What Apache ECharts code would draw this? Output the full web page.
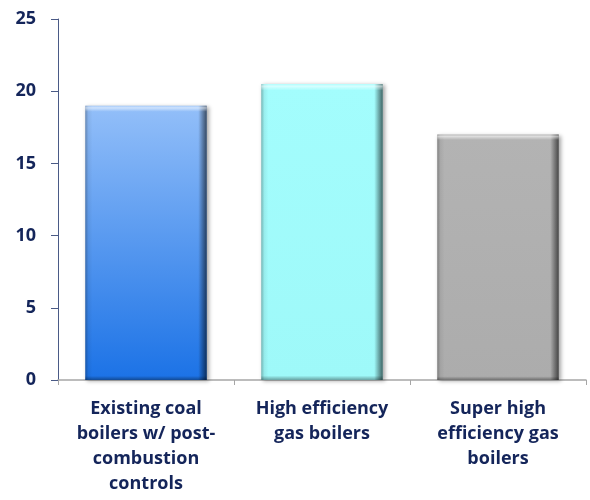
<!DOCTYPE html>
<html>
<head>
<meta charset="utf-8">
<script src="https://cdn.jsdelivr.net/npm/echarts@6/dist/echarts.min.js"></script>
<style>
  html, body { margin: 0; padding: 0; background: #ffffff; }
  #chart { width: 590px; height: 500px; }
</style>
</head>
<body>
<div id="chart"></div>
<script>
// Boiler types and their values
const categories = [
  'Existing coal\nboilers w/ post-\ncombustion\ncontrols',
  'High efficiency\ngas boilers',
  'Super high\nefficiency gas\nboilers'
];
const values = [19, 20.5, 17];
const yTicks = [0, 5, 10, 15, 20, 25];

// Fill per bar: top colour, bottom colour
const fills = [
  ['#93bff9', '#1b72e6'],
  ['#a3fdfd', '#9ef9f9'],
  ['#b3b3b3', '#acacac']
];
const navy = '#14255a';

function vGrad(c) {
  return new echarts.graphic.LinearGradient(0, 0, 0, 1, [
    { offset: 0, color: c[0] }, { offset: 1, color: c[1] }
  ]);
}

// Bevel overlay: darker left/right edges, clear middle
const edge = new echarts.graphic.LinearGradient(0, 0, 1, 0, [
  { offset: 0, color: 'rgba(0,0,0,0.28)' },
  { offset: 0.025, color: 'rgba(0,0,0,0.06)' },
  { offset: 0.06, color: 'rgba(0,0,0,0)' },
  { offset: 0.93, color: 'rgba(0,0,0,0)' },
  { offset: 0.97, color: 'rgba(0,0,0,0.35)' },
  { offset: 1, color: 'rgba(0,0,0,0.6)' }
]);
// Bevel overlay: light top band and slight dark bottom
const topGlow = new echarts.graphic.LinearGradient(0, 0, 0, 1, [
  { offset: 0, color: 'rgba(255,255,255,0.15)' },
  { offset: 0.008, color: 'rgba(255,255,255,0.55)' },
  { offset: 0.022, color: 'rgba(255,255,255,0.0)' },
  { offset: 0.985, color: 'rgba(0,0,0,0)' },
  { offset: 1, color: 'rgba(0,0,0,0.35)' }
]);

const chart = echarts.init(document.getElementById('chart'));
chart.setOption({
  animation: false,
  grid: { left: 58, right: 4, top: 19, bottom: 120 },
  xAxis: {
    type: 'category',
    data: categories,
    axisLine: { lineStyle: { color: '#a6a6a6', width: 1.5 } },
    axisTick: { show: true, length: 5, lineStyle: { color: '#a6a6a6' } },
    axisLabel: {
      interval: 0,
      margin: 16,
      color: navy,
      fontFamily: 'Open Sans',
      fontWeight: 'bold',
      fontSize: 18,
      lineHeight: 25,
      align: 'center'
    }
  },
  yAxis: {
    type: 'value',
    min: yTicks[0],
    max: yTicks[yTicks.length - 1],
    interval: yTicks[1] - yTicks[0],
    splitLine: { show: false },
    axisLine: { show: true, lineStyle: { color: '#4a5a86', width: 1 } },
    axisTick: { show: true, length: 7, lineStyle: { color: '#4a5a86' } },
    axisLabel: {
      margin: 22,
      color: navy,
      fontFamily: 'Open Sans',
      fontWeight: 'bold',
      fontSize: 18
    }
  },
  series: [
    {
      type: 'bar',
      barWidth: '69%',
      barGap: '-100%',
      data: values.map((v, i) => ({
        value: v,
        itemStyle: {
          color: vGrad(fills[i]),
          shadowColor: 'rgba(0,0,0,0.35)',
          shadowBlur: 4,
          shadowOffsetX: 2,
          shadowOffsetY: 1
        }
      }))
    },
    {
      type: 'bar',
      barWidth: '69%',
      barGap: '-100%',
      silent: true,
      data: values,
      itemStyle: { color: edge }
    },
    {
      type: 'bar',
      barWidth: '69%',
      barGap: '-100%',
      silent: true,
      data: values,
      itemStyle: { color: topGlow }
    }
  ]
});
</script>
</body>
</html>
